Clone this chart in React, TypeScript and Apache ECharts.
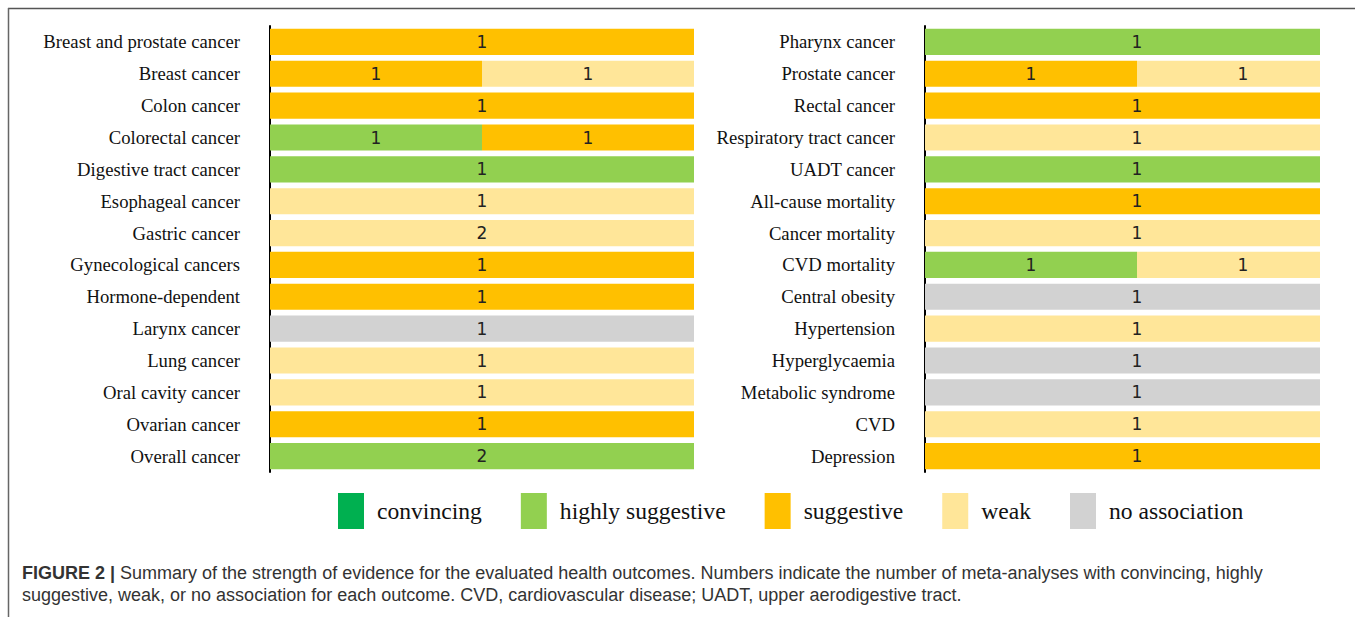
import React, { useEffect, useRef } from "react";
import * as echarts from "echarts";

const levels = ["convincing", "highly suggestive", "suggestive", "weak", "no association"];
const levelColors = ["#00B050", "#92D050", "#FFC000", "#FFE699", "#D2D2D2"];

const leftOutcomes = [
  "Breast and prostate cancer", "Breast cancer", "Colon cancer", "Colorectal cancer",
  "Digestive tract cancer", "Esophageal cancer", "Gastric cancer", "Gynecological cancers",
  "Hormone-dependent", "Larynx cancer", "Lung cancer", "Oral cavity cancer",
  "Ovarian cancer", "Overall cancer",
];
// counts per level for each left outcome
const leftConvincing = [0, 0, 0, 0, 0, 0, 0, 0, 0, 0, 0, 0, 0, 0];
const leftHighly = [0, 0, 0, 1, 1, 0, 0, 0, 0, 0, 0, 0, 0, 2];
const leftSuggestive = [1, 1, 1, 1, 0, 0, 0, 1, 1, 0, 0, 0, 1, 0];
const leftWeak = [0, 1, 0, 0, 0, 1, 2, 0, 0, 0, 1, 1, 0, 0];
const leftNone = [0, 0, 0, 0, 0, 0, 0, 0, 0, 1, 0, 0, 0, 0];

const rightOutcomes = [
  "Pharynx cancer", "Prostate cancer", "Rectal cancer", "Respiratory tract cancer",
  "UADT cancer", "All-cause mortality", "Cancer mortality", "CVD mortality",
  "Central obesity", "Hypertension", "Hyperglycaemia", "Metabolic syndrome",
  "CVD", "Depression",
];
const rightConvincing = [0, 0, 0, 0, 0, 0, 0, 0, 0, 0, 0, 0, 0, 0];
const rightHighly = [1, 0, 0, 0, 1, 0, 0, 1, 0, 0, 0, 0, 0, 0];
const rightSuggestive = [0, 1, 1, 0, 0, 1, 0, 0, 0, 0, 0, 0, 0, 1];
const rightWeak = [0, 1, 0, 1, 0, 0, 1, 1, 0, 1, 0, 0, 1, 0];
const rightNone = [0, 0, 0, 0, 0, 0, 0, 0, 1, 0, 1, 1, 0, 0];

const captionLine1Rest =
  " Summary of the strength of evidence for the evaluated health outcomes. Numbers indicate the number of meta-analyses with convincing, highly";
const captionLine2 =
  "suggestive, weak, or no association for each outcome. CVD, cardiovascular disease; UADT, upper aerodigestive tract.";

function buildSeries(groups: number[][], axisIndex: number) {
  const n = groups[0].length;
  const totals = Array.from({ length: n }, (_, i) => groups.reduce((s, g) => s + g[i], 0));
  return groups.map((g, li) => ({
    name: levels[li],
    type: "bar",
    stack: "panel" + axisIndex,
    xAxisIndex: axisIndex,
    yAxisIndex: axisIndex,
    barCategoryGap: "18%",
    itemStyle: { color: levelColors[li] },
    label: {
      show: true,
      position: "inside",
      fontFamily: "DejaVu Sans",
      fontSize: 17,
      color: "#222",
      formatter: (p: any) => String(p.data.count),
    },
    data: g.map((c, i) => (c > 0 ? { value: c / totals[i], count: c } : "-")),
  }));
}

export default function App() {
  const ref = useRef<HTMLDivElement>(null);
  useEffect(() => {
    if (!ref.current) return;
    const chart = echarts.init(ref.current, undefined, { renderer: "svg" });
    const yAxisCommon = {
      type: "category",
      inverse: true,
      axisLine: { show: true, lineStyle: { color: "#000", width: 2 } },
      axisTick: { show: false },
      axisLabel: {
        fontFamily: "Liberation Serif",
        fontSize: 18.7,
        color: "#111",
        margin: 30,
      },
    };
    const xAxisCommon = { type: "value", min: 0, max: 1, show: false };
    chart.setOption({
      animation: false,
      backgroundColor: "#fff",
      grid: [
        { left: 270, top: 26, width: 424, height: 446 },
        { left: 925, top: 26, width: 424, height: 446 },
      ],
      xAxis: [
        { ...xAxisCommon, gridIndex: 0 },
        { ...xAxisCommon, gridIndex: 1 },
      ],
      yAxis: [
        { ...yAxisCommon, gridIndex: 0, data: leftOutcomes },
        { ...yAxisCommon, gridIndex: 1, data: rightOutcomes },
      ],
      legend: {
        data: levels,
        left: 333,
        top: 488,
        icon: "rect",
        itemWidth: 26,
        itemHeight: 36,
        itemGap: 39,
        selectedMode: false,
        textStyle: {
          fontFamily: "Liberation Serif",
          fontSize: 23.6,
          color: "#111",
          padding: [0, 0, 0, 8],
        },
      },
      graphic: [
        {
          type: "rect",
          z: 100,
          shape: { x: 1320, y: 20, width: 40, height: 460 },
          style: { fill: "#fff" },
        },
        {
          type: "line",
          z: 101,
          shape: { x1: 8, y1: 8.5, x2: 1355, y2: 8.5 },
          style: { stroke: "#555", lineWidth: 1.5 },
        },
        {
          type: "line",
          z: 101,
          shape: { x1: 8.5, y1: 8, x2: 8.5, y2: 617 },
          style: { stroke: "#666", lineWidth: 1.5 },
        },
        {
          type: "text",
          left: 22,
          top: 564,
          style: {
            text: "{b|FIGURE 2 |}" + captionLine1Rest,
            rich: {
              b: { fontWeight: "bold", fontFamily: "Liberation Sans", fontSize: 18, fill: "#333" },
            },
            fontFamily: "Liberation Sans",
            fontSize: 18,
            fill: "#333",
          },
        },
        {
          type: "text",
          left: 22,
          top: 586,
          style: {
            text: captionLine2,
            fontFamily: "Liberation Sans",
            fontSize: 18,
            fill: "#333",
          },
        },
      ],
      series: [
        ...buildSeries([leftConvincing, leftHighly, leftSuggestive, leftWeak, leftNone], 0),
        ...buildSeries([rightConvincing, rightHighly, rightSuggestive, rightWeak, rightNone], 1),
      ],
    });
    return () => chart.dispose();
  }, []);
  return (
    <div
      ref={ref}
      style={{ position: "absolute", left: 0, top: 0, width: 1355, height: 617 }}
    />
  );
}
